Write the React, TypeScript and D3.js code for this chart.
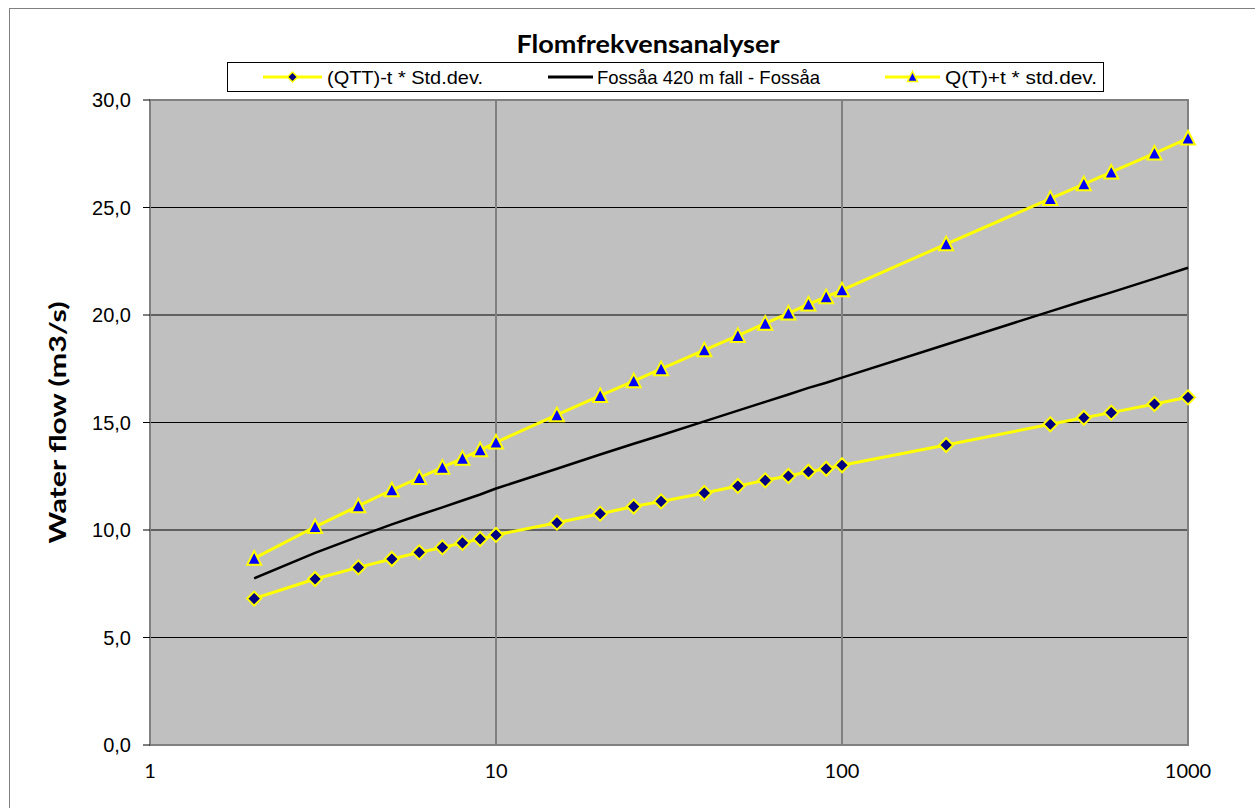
import React from "react";
import * as d3 from "d3";

// Return periods (years)
const returnPeriods = [2, 3, 4, 5, 6, 7, 8, 9, 10, 15, 20, 25, 30, 40, 50, 60, 70, 80, 90, 100, 200, 400, 500, 600, 800, 1000];

// Lower confidence bound: (QTT)-t * Std.dev.
const lowerBound = [6.81, 7.72, 8.26, 8.65, 8.96, 9.19, 9.40, 9.58, 9.77, 10.34, 10.76, 11.09, 11.33, 11.72, 12.05, 12.31, 12.51, 12.71, 12.85, 13.01, 13.95, 14.92, 15.22, 15.46, 15.86, 16.17];

// Estimated flood flow: Fossåa 420 m fall - Fossåa
const estimate = [7.75, 8.94, 9.69, 10.26, 10.70, 11.05, 11.37, 11.65, 11.93, 12.85, 13.51, 14.01, 14.41, 15.05, 15.55, 15.96, 16.30, 16.61, 16.85, 17.09, 18.63, 20.17, 20.66, 21.05, 21.69, 22.20];

// Upper confidence bound: Q(T)+t * std.dev.
const upperBound = [8.68, 10.15, 11.12, 11.86, 12.43, 12.91, 13.33, 13.72, 14.08, 15.35, 16.25, 16.93, 17.49, 18.37, 19.04, 19.61, 20.08, 20.50, 20.84, 21.16, 23.30, 25.41, 26.09, 26.64, 27.52, 28.22];

const xTicks = [1, 10, 100, 1000];
const yTicks = [0, 5, 10, 15, 20, 25, 30];

const seriesNames = ["(QTT)-t * Std.dev.", "Fossåa 420 m fall - Fossåa", "Q(T)+t * std.dev."];
const chartTitle = "Flomfrekvensanalyser";
const yAxisTitle = "Water flow (m3/s)";

const W = 1255;
const H = 808;
const plot = { left: 150, top: 100, right: 1188, bottom: 745 };

const YELLOW = "#FFFF00";

function diamondPath(cx: number, cy: number, r: number) {
  return `M${cx},${cy - r}L${cx + r},${cy}L${cx},${cy + r}L${cx - r},${cy}Z`;
}
function trianglePath(cx: number, cy: number, r: number) {
  const h = r * 1.8;
  return `M${cx},${cy - h / 2 - 1}L${cx + r},${cy + h / 2}L${cx - r},${cy + h / 2}Z`;
}

export default function App() {
  const x = d3.scaleLog().domain([1, 1000]).range([plot.left, plot.right]);
  const y = d3.scaleLinear().domain([0, 30]).range([plot.bottom, plot.top]);

  const line = d3
    .line<number>()
    .x((_, i) => x(returnPeriods[i]))
    .y((d) => y(d));

  const fmt = (v: number) => v.toFixed(1).replace(".", ",");

  return (
    <svg
      width={W}
      height={H}
      style={{ position: "absolute", left: 0, top: 0, background: "#fff" }}
    >
      {/* chart frame */}
      <rect x={9.5} y={8.5} width={W} height={H} fill="#fff" stroke="#808080" strokeWidth={1} />

      {/* title */}
      <text
        x={648}
        y={53}
        textAnchor="middle"
        fontFamily="Lato, 'Open Sans', sans-serif"
        fontWeight={700}
        fontSize={24}
        textLength={263}
        lengthAdjust="spacingAndGlyphs"
      >
        {chartTitle}
      </text>

      {/* legend */}
      <g>
        <rect x={227.5} y={62.5} width={876} height={29} fill="#fff" stroke="#000" strokeWidth={1} />
        <line x1={263} x2={322} y1={77} y2={77} stroke={YELLOW} strokeWidth={3} />
        <path d={diamondPath(292.5, 77, 5)} fill="#000080" stroke={YELLOW} strokeWidth={1.5} />
        <text x={327} y={84} fontFamily="'Liberation Sans', Arial, sans-serif" fontSize={19} textLength={156} lengthAdjust="spacingAndGlyphs">
          {seriesNames[0]}
        </text>
        <line x1={548} x2={593} y1={77} y2={77} stroke="#000" strokeWidth={3} />
        <text x={597} y={84} fontFamily="'Liberation Sans', Arial, sans-serif" fontSize={19} textLength={223} lengthAdjust="spacingAndGlyphs">
          {seriesNames[1]}
        </text>
        <line x1={885} x2={940} y1={77} y2={77} stroke={YELLOW} strokeWidth={3} />
        <path d={trianglePath(912.5, 77, 5)} fill="#0000FF" stroke={YELLOW} strokeWidth={1.5} />
        <text x={945} y={84} fontFamily="'Liberation Sans', Arial, sans-serif" fontSize={19} textLength={152} lengthAdjust="spacingAndGlyphs">
          {seriesNames[2]}
        </text>
      </g>

      {/* plot area */}
      <rect
        x={plot.left}
        y={plot.top}
        width={plot.right - plot.left}
        height={plot.bottom - plot.top}
        fill="#C0C0C0"
      />

      {/* horizontal gridlines */}
      {yTicks
        .filter((t) => t > 0 && t < 30)
        .map((t) => (
          <line key={`hg${t}`} x1={plot.left} x2={plot.right} y1={y(t)} y2={y(t)} stroke="#000" strokeWidth={1} />
        ))}
      {/* vertical gridlines */}
      {xTicks
        .filter((t) => t > 1 && t < 1000)
        .map((t) => (
          <line key={`vg${t}`} x1={x(t)} x2={x(t)} y1={plot.top} y2={plot.bottom} stroke="#808080" strokeWidth={2} />
        ))}

      {/* plot border */}
      <rect
        x={plot.left}
        y={plot.top}
        width={plot.right - plot.left}
        height={plot.bottom - plot.top}
        fill="none"
        stroke="#808080"
        strokeWidth={2}
      />

      {/* y axis ticks and labels */}
      {yTicks.map((t) => (
        <g key={`yt${t}`}>
          <line x1={plot.left - 7} x2={plot.left} y1={y(t)} y2={y(t)} stroke="#000" strokeWidth={1} />
          <text
            x={131}
            y={y(t) + 7}
            textAnchor="end"
            fontFamily="'Liberation Sans', Arial, sans-serif"
            fontSize={20}
          >
            {fmt(t)}
          </text>
        </g>
      ))}

      {/* x axis labels */}
      {xTicks.map((t) => (
        <text
          key={`xt${t}`}
          x={x(t)}
          y={778}
          textAnchor="middle"
          fontFamily="Lato, 'Open Sans', sans-serif"
          fontSize={20}
        >
          {t}
        </text>
      ))}

      {/* y axis title */}
      <text
        transform={`translate(66, ${(plot.top + plot.bottom) / 2}) rotate(-90)`}
        textAnchor="middle"
        fontFamily="Lato, 'Open Sans', sans-serif"
        fontWeight={700}
        fontSize={23}
        textLength={242}
        lengthAdjust="spacingAndGlyphs"
      >
        {yAxisTitle}
      </text>

      {/* series */}
      <path d={line(lowerBound) ?? ""} fill="none" stroke={YELLOW} strokeWidth={3} />
      <path d={line(upperBound) ?? ""} fill="none" stroke={YELLOW} strokeWidth={3} />
      <path d={line(estimate) ?? ""} fill="none" stroke="#000" strokeWidth={2.5} />

      {lowerBound.map((v, i) => (
        <path key={`d${i}`} d={diamondPath(x(returnPeriods[i]), y(v), 7)} fill="#000080" stroke={YELLOW} strokeWidth={2} />
      ))}
      {upperBound.map((v, i) => (
        <path key={`t${i}`} d={trianglePath(x(returnPeriods[i]), y(v), 7)} fill="#0000FF" stroke={YELLOW} strokeWidth={2} />
      ))}
    </svg>
  );
}
